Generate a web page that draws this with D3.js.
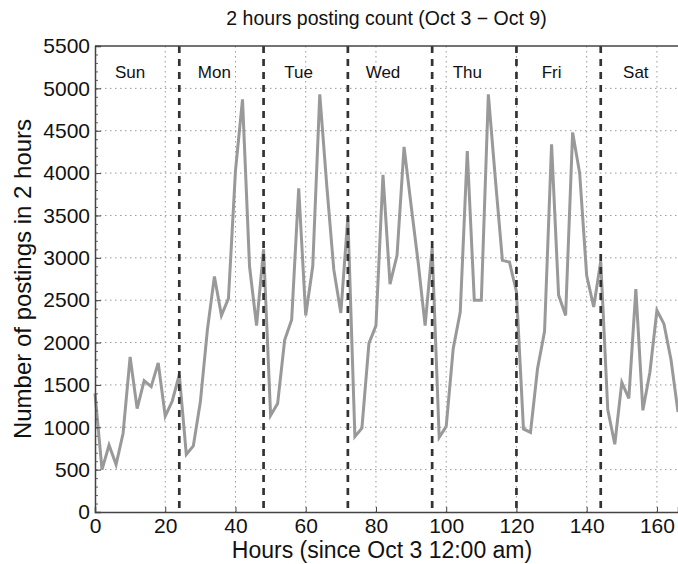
<!DOCTYPE html>
<html>
<head>
<meta charset="utf-8">
<script src="https://cdn.jsdelivr.net/npm/d3@7"></script>
<style>
  body { margin: 0; background: #fff; }
  svg { font-family: "Liberation Sans", Arial, sans-serif; }
</style>
</head>
<body>
<div id="chart"></div>
<script>
// data: posting counts every 2 hours, starting Oct 3 12:00 am
const hours = d3.range(0, 168, 2);
const counts = [
  1400, 500, 790, 560, 930, 1830, 1220, 1550, 1480, 1760, 1130, 1310,
  1620, 680, 780, 1300, 2150, 2780, 2320, 2520, 4030, 4870, 2900, 2200,
  3100, 1140, 1280, 2030, 2270, 3820, 2320, 2900, 4930, 3850, 2860, 2350,
  3480, 890, 990, 1990, 2200, 3980, 2690, 3030, 4310, 3620, 2950, 2200,
  3120, 880, 1010, 1930, 2360, 4260, 2500, 2500, 4930, 3930, 2970, 2950,
  2600, 980, 940, 1690, 2130, 4340, 2560, 2320, 4480, 4000, 2790, 2420,
  2960, 1210, 800, 1530, 1340, 2630, 1200, 1650, 2380, 2220, 1800, 1180
];
const dayNames = ["Sun", "Mon", "Tue", "Wed", "Thu", "Fri", "Sat"];
const dayStarts = [0, 24, 48, 72, 96, 120, 144];
const dayBreaks = [24, 48, 72, 96, 120, 144];
const xTicks = [0, 20, 40, 60, 80, 100, 120, 140, 160];
const yTicks = d3.range(0, 5501, 500);

//size
const width = 678;
const height = 564;
const margin = { top: 46, bottom: 52, left: 95, right: 0 };
const innerWidth = width - margin.left - margin.right;
const innerHeight = height - margin.top - margin.bottom;

const data = hours.map((h, i) => ({ h: h, v: counts[i] }));

//scales
const xScale = d3.scaleLinear().domain([0, 166]).range([0, innerWidth]);
const yScale = d3.scaleLinear().domain([0, 5500]).range([innerHeight, 0]);

const svg = d3.select("#chart")
  .append("svg")
  .attr("width", width)
  .attr("height", height);

const g = svg.append("g")
  .attr("transform", `translate(${margin.left},${margin.top})`);

// dotted grid
g.append("g")
  .selectAll("line")
  .data(xTicks.filter((d) => d > 0))
  .join("line")
  .attr("x1", (d) => xScale(d))
  .attr("x2", (d) => xScale(d))
  .attr("y1", 0)
  .attr("y2", innerHeight)
  .attr("stroke", "#999")
  .attr("stroke-width", 1)
  .attr("stroke-dasharray", "1.5,3.5");

g.append("g")
  .selectAll("line")
  .data(yTicks.filter((d) => d > 0 && d < 5500))
  .join("line")
  .attr("x1", 0)
  .attr("x2", innerWidth)
  .attr("y1", (d) => yScale(d))
  .attr("y2", (d) => yScale(d))
  .attr("stroke", "#999")
  .attr("stroke-width", 1)
  .attr("stroke-dasharray", "1.5,3.5");

// series line
g.append("path")
  .datum(data)
  .attr("fill", "none")
  .attr("stroke", "#999")
  .attr("stroke-width", 3)
  .attr("stroke-linejoin", "miter")
  .attr("d", d3.line().x((d) => xScale(d.h)).y((d) => yScale(d.v)));

// day separators
g.append("g")
  .selectAll("line")
  .data(dayBreaks)
  .join("line")
  .attr("x1", (d) => xScale(d))
  .attr("x2", (d) => xScale(d))
  .attr("y1", 0)
  .attr("y2", innerHeight)
  .attr("stroke", "#333")
  .attr("stroke-width", 2.7)
  .attr("stroke-dasharray", "7,6");

// day labels
g.append("g")
  .selectAll("text")
  .data(dayNames)
  .join("text")
  .attr("x", (d, i) => xScale(dayStarts[i] + 10))
  .attr("y", 32)
  .attr("text-anchor", "middle")
  .attr("font-size", 17)
  .attr("fill", "#111")
  .text((d) => d);

// axes (MATLAB style, ticks inside)
g.append("g")
  .attr("transform", `translate(0,${innerHeight})`)
  .call(d3.axisBottom(xScale).tickValues(xTicks).tickSize(-5).tickPadding(6))
  .call((ax) => {
    ax.select(".domain").attr("stroke", "#444").attr("stroke-width", 1.5);
    ax.selectAll("line").attr("stroke", "#444");
    ax.selectAll("text").attr("font-size", 21).attr("fill", "#111")
      .attr("font-family", "Liberation Sans, Arial, sans-serif");
  });

g.append("g")
  .call(d3.axisLeft(yScale).tickValues(d3.range(0, 5501, 100)).tickSize(-3).tickFormat(""))
  .call((ax) => {
    ax.select(".domain").remove();
    ax.selectAll("line").attr("stroke", "#666");
  });

g.append("g")
  .call(d3.axisLeft(yScale).tickValues(yTicks).tickSize(-6).tickPadding(5).tickFormat(d3.format("d")))
  .call((ax) => {
    ax.select(".domain").attr("stroke", "#444").attr("stroke-width", 1.5);
    ax.selectAll("line").attr("stroke", "#444");
    ax.selectAll("text").attr("font-size", 21).attr("fill", "#111")
      .attr("font-family", "Liberation Sans, Arial, sans-serif");
  });

// top border
g.append("line")
  .attr("x1", 0)
  .attr("x2", innerWidth)
  .attr("y1", 0)
  .attr("y2", 0)
  .attr("stroke", "#444")
  .attr("stroke-width", 1.5);

// title + axis labels
svg.append("text")
  .attr("x", margin.left + innerWidth / 2)
  .attr("y", 25)
  .attr("text-anchor", "middle")
  .attr("font-size", 19.5)
  .attr("fill", "#111")
  .text("2 hours posting count (Oct 3 \u2212 Oct 9)");

svg.append("text")
  .attr("x", 382)
  .attr("y", 558)
  .attr("text-anchor", "middle")
  .attr("font-size", 23)
  .attr("fill", "#111")
  .text("Hours (since Oct 3 12:00 am)");

svg.append("text")
  .attr("transform", `translate(31,${margin.top + innerHeight / 2}) rotate(-90)`)
  .attr("text-anchor", "middle")
  .attr("font-size", 24)
  .attr("fill", "#111")
  .text("Number of postings in 2 hours");
</script>
</body>
</html>
